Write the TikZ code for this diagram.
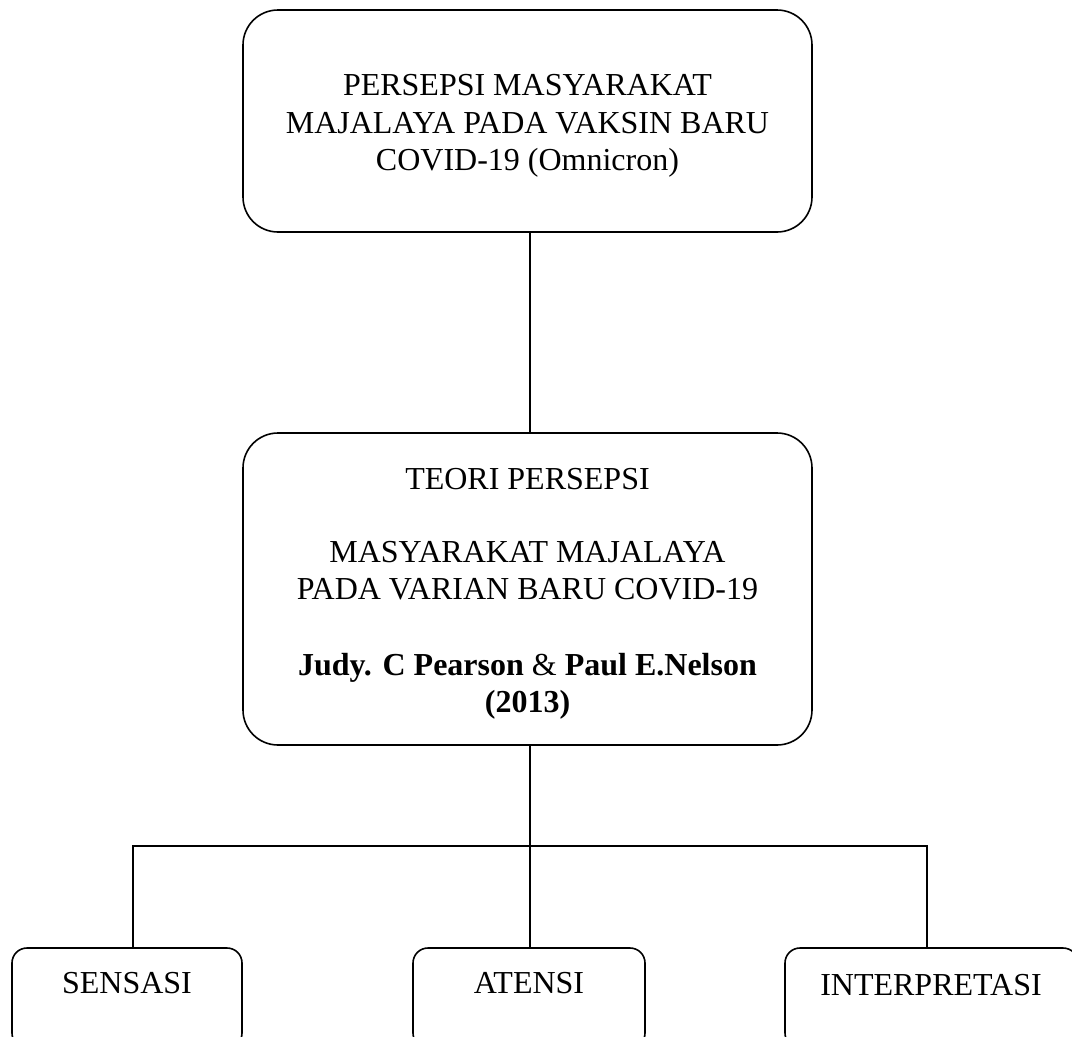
\documentclass[tikz,border=0pt]{standalone}
\usepackage{fontspec}
\setmainfont{Liberation Serif}
\newcommand{\downstrut}{\rule{0pt}{31.5pt}}
\begin{document}
\begin{tikzpicture}[x=1pt,y=-1pt,
  bigbox/.style={draw, line width=1.6pt, rounded corners=35pt, inner sep=0pt, outer sep=0pt, minimum width=569pt, align=center, font=\fontsize{32}{37.5}\selectfont},
  smallbox/.style={draw, line width=1.6pt, rounded corners=15pt, inner sep=0pt, outer sep=0pt, minimum height=100pt},
  lbl/.style={inner sep=0pt, anchor=base, font=\fontsize{32}{37.5}\selectfont},
  conn/.style={line width=1.6pt}]
\useasboundingbox (0,0) rectangle (1072,1037);
\clip (0,0) rectangle (1072,1037);
\node[bigbox, minimum height=222pt] (top) at (527.5,121)
  {\downstrut PERSEPSI MASYARAKAT\\MAJALAYA PADA VAKSIN BARU\\COVID-19 (Omnicron)};
\node[bigbox, minimum height=312pt] (mid) at (527.5,589)
  {\downstrut TEORI PERSEPSI\\[35pt]MASYARAKAT MAJALAYA\\PADA VARIAN BARU COVID-19\\[38pt]\textbf{Judy. C Pearson} \& \textbf{Paul E.Nelson}\\\textbf{(2013)}};
\node[smallbox, minimum width=230pt] (sens) at (127,998) {};
\node[smallbox, minimum width=232pt] (aten) at (529,998) {};
\node[smallbox, minimum width=293pt] (intp) at (931.5,998) {};
\node[lbl] (senst) at (127,993) {SENSASI};
\node[lbl] (atent) at (529,993) {ATENSI};
\node[lbl] (intpt) at (931,995) {INTERPRETASI};
\coordinate (cx) at (530,0);
\coordinate (hl) at (133,846);
\coordinate (hr) at (927,846);
\draw[conn] (top.south -| cx) -- (mid.north -| cx);
\draw[conn] (mid.south -| cx) -- (aten.north -| cx);
\draw[conn] (hl |- sens.north) -- (hl) -- (hr) -- (hr |- intp.north);
\end{tikzpicture}
\end{document}
